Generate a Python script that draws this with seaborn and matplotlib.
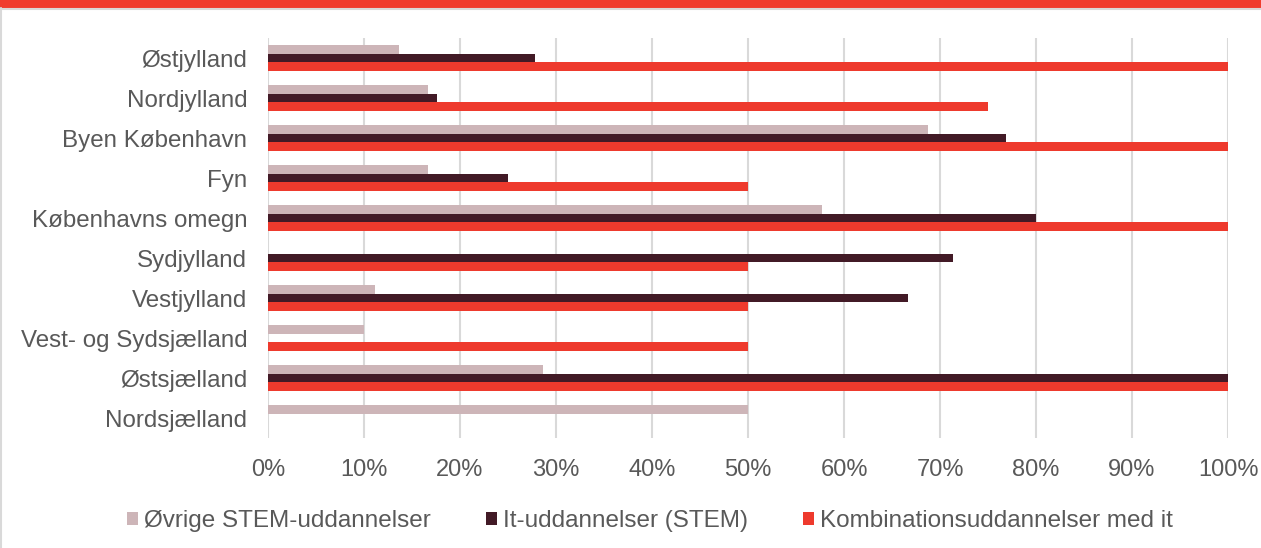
import matplotlib
matplotlib.use("Agg")
import matplotlib.pyplot as plt
import seaborn as sns
import pandas as pd
from matplotlib.patches import Patch, Rectangle
from matplotlib.lines import Line2D
from matplotlib.ticker import FuncFormatter

regions = ["Østjylland", "Nordjylland", "Byen København", "Fyn", "Københavns omegn",
           "Sydjylland", "Vestjylland", "Vest- og Sydsjælland", "Østsjælland", "Nordsjælland"]
series = ["Øvrige STEM-uddannelser", "It-uddannelser (STEM)", "Kombinationsuddannelser med it"]
ovrige = [13.6, 16.7, 68.8, 16.7, 57.7, 0.0, 11.1, 10.0, 28.6, 50.0]
it_udd = [27.8, 17.6, 76.9, 25.0, 80.0, 71.4, 66.7, 0.0, 100.0, 0.0]
komb = [100.0, 75.0, 100.0, 50.0, 100.0, 50.0, 50.0, 50.0, 100.0, 0.0]
xticks = [0, 10, 20, 30, 40, 50, 60, 70, 80, 90, 100]

colors = ["#cdb5b8", "#421a26", "#ee3a2d"]
text_color = "#595959"
grid_color = "#d9d9d9"

rows = []
for name, vals in zip(series, [ovrige, it_udd, komb]):
    for r, v in zip(regions, vals):
        rows.append({"region": r, "series": name, "value": v})
df = pd.DataFrame(rows)

sns.set_theme(style="white")
plt.rcParams["font.family"] = ["Liberation Sans", "DejaVu Sans"]

fig = plt.figure(figsize=(12.61, 5.48), dpi=100)
W, H = 1261, 548
ax = fig.add_axes([268 / W, 1 - 438 / H, (1228 - 268) / W, 400 / H])

sns.barplot(data=df, x="value", y="region", hue="series", order=regions,
            hue_order=series, palette=colors, orient="h", width=0.63,
            linewidth=0, saturation=1, errorbar=None, legend=False, ax=ax)

ax.set_xlim(0, 100)
ax.set_xticks(xticks)
ax.xaxis.set_major_formatter(FuncFormatter(lambda v, p: f"{int(v)}%"))
ax.set_axisbelow(True)
ax.grid(axis="x", color=grid_color, linewidth=1.5)
ax.grid(axis="y", visible=False)
for s in ax.spines.values():
    s.set_visible(False)
ax.tick_params(axis="both", length=0, labelcolor=text_color)
ax.tick_params(axis="x", labelsize=17, pad=15)
ax.tick_params(axis="y", labelsize=17.4, pad=15)
ax.set_xlabel("")
ax.set_ylabel("")

handles = [Patch(facecolor=c, edgecolor="none") for c in colors]
fig.legend(handles, series, loc="center", bbox_to_anchor=(650 / W, 1 - 521 / H),
           ncol=3, frameon=False, fontsize=17.5, labelcolor=text_color,
           handlelength=0.42, handleheight=0.42, handletextpad=0.25,
           columnspacing=2.3)

# figure decorations: top red band and light grey frame
fig.add_artist(Rectangle((0, 1 - 8 / H), 1, 8 / H, transform=fig.transFigure,
                         facecolor="#f03c2e", edgecolor="none"))
fig.add_artist(Line2D([0, 1], [1 - 9 / H, 1 - 9 / H], transform=fig.transFigure,
                      color=grid_color, linewidth=1.5))
fig.add_artist(Line2D([1.5 / W, 1.5 / W], [0, 1 - 8 / H], transform=fig.transFigure,
                      color=grid_color, linewidth=1.5))

fig.savefig("out.png", dpi=100)
